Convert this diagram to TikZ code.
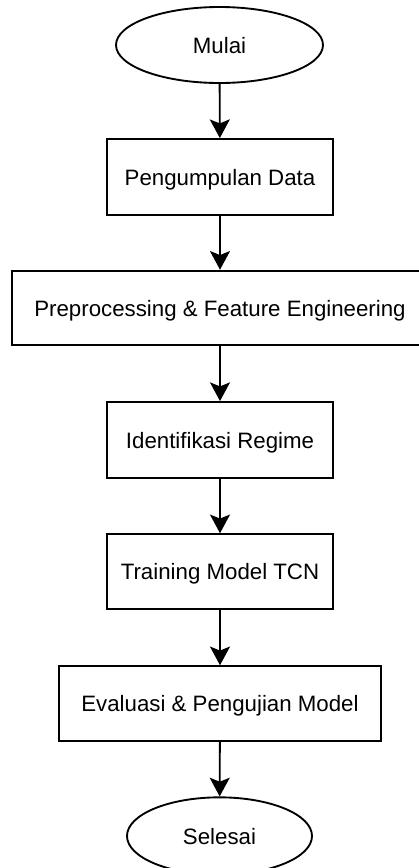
\documentclass[tikz,border=0pt]{standalone}
\usepackage{fontspec}
\setmainfont{Liberation Sans}
\usetikzlibrary{shapes.geometric,arrows.meta}
\tikzset{
  base/.style={draw=black, line width=1.4pt, inner sep=0pt, font=\fontsize{16.7}{20}\selectfont, text height=12pt, text depth=0pt, align=center},
  procbox/.style={base, rectangle, minimum height=57pt},
  termnode/.style={base, ellipse, minimum height=57pt},
  flow/.style={draw=black, line width=1.4pt, -{Stealth[length=14pt,width=15pt,inset=3pt]}}
}
\begin{document}
\begin{tikzpicture}[x=0.75pt,y=-0.75pt]
\useasboundingbox (0,0) rectangle (418,868);
\node[termnode, minimum width=155.25pt] (mulai) at (219.5,45) {Mulai};
\node[procbox, minimum width=169.5pt] (data) at (220,177) {Pengumpulan Data};
\node[procbox, minimum width=312pt, minimum height=56pt] (prep) at (220,308) {Preprocessing \& Feature Engineering};
\node[procbox, minimum width=169.5pt] (regime) at (220,440) {Identifikasi Regime};
\node[procbox, minimum width=169.5pt, minimum height=56pt] (tcn) at (220,571.5) {Training Model TCN};
\node[procbox, minimum width=241.5pt, minimum height=56pt] (eval) at (220,703.5) {Evaluasi \& Pengujian Model};
\node[termnode, minimum width=138.75pt, minimum height=58pt] (selesai) at (219.5,836) {Selesai};
\draw[flow] (mulai) -- (data);
\draw[flow] (data) -- (prep);
\draw[flow] (prep) -- (regime);
\draw[flow] (regime) -- (tcn);
\draw[flow] (tcn) -- (eval);
\draw[flow] (eval) -- (selesai);
\end{tikzpicture}
\end{document}
